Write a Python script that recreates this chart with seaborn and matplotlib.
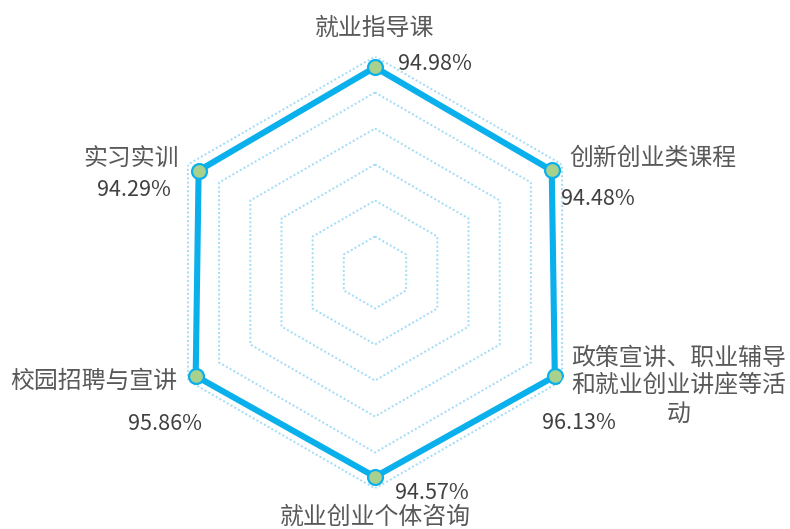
import numpy as np
import pandas as pd
import matplotlib
matplotlib.use("Agg")
import matplotlib.pyplot as plt
import seaborn as sns

categories = ["就业指导课", "创新创业类课程", "政策宣讲、职业辅导\n和就业创业讲座等活\n动",
              "就业创业个体咨询", "校园招聘与宣讲", "实习实训"]
values = [94.98, 94.48, 96.13, 94.57, 95.86, 94.29]
value_labels = ["94.98%", "94.48%", "96.13%", "94.57%", "95.86%", "94.29%"]
ring_levels = [100 / 6 * k for k in range(1, 7)]

sns.set_theme(style="white")
plt.rcParams["font.family"] = ["Noto Sans CJK SC", "DejaVu Sans"]

fig = plt.figure(figsize=(7.9, 5.29), dpi=100)
ax = fig.add_axes([159 / 790, 40.5 / 529, 432 / 790, 432 / 529], projection="polar")
ax.set_theta_zero_location("N")
ax.set_theta_direction(-1)

n = len(categories)
angles = np.linspace(0, 2 * np.pi, n, endpoint=False)
closed_angles = np.append(angles, angles[0])

# hexagonal dotted rings
for lvl in ring_levels:
    ax.plot(closed_angles, [lvl] * (n + 1), color="#A0DCF8", lw=1.4,
            ls=(0, (1, 1.2)), zorder=1)

df = pd.DataFrame({"theta": closed_angles, "r": values + [values[0]]})
sns.lineplot(data=df, x="theta", y="r", sort=False, ax=ax, color="#0AB0EC",
             lw=4.4, zorder=3, estimator=None)
sns.scatterplot(data=df.iloc[:-1], x="theta", y="r", ax=ax, s=115,
                color="#A9D18E", edgecolor="#0AB0EC", linewidth=1.6, zorder=4)

ax.set_ylim(0, 100)
ax.set_xticks([])
ax.set_yticks([])
ax.grid(False)
ax.spines["polar"].set_visible(False)
ax.set_xlabel("")
ax.set_ylabel("")

cat_style = dict(color="#595959", fontsize=17.2)
val_style = dict(color="#404040", fontsize=15.5)
line_step = 28  # pixel spacing between wrapped category lines

# (dx, dy, ha) pixel offsets for category labels and value labels
cat_offsets = [(0, 39, "center"), (18, 12, "left"), (124, -10, "center"),
               (0, -41, "center"), (-18, -5, "right"), (-20, 11, "right")]
val_offsets = [(23, 3, "left"), (9, -29, "left"), (-13, -47, "left"),
               (20, -16, "left"), (6, -48, "right"), (-28, -19, "right")]

for th, r, cat, vl, (cdx, cdy, cha), (vdx, vdy, vha) in zip(
        angles, values, categories, value_labels, cat_offsets, val_offsets):
    lines = cat.split("\n")
    top = cdy + line_step * (len(lines) - 1) / 2
    for i, line in enumerate(lines):
        ax.annotate(line, xy=(th, r), xytext=(cdx, top - i * line_step),
                    textcoords="offset pixels", ha=cha, va="center",
                    annotation_clip=False, **cat_style)
    ax.annotate(vl, xy=(th, r), xytext=(vdx, vdy), textcoords="offset pixels",
                ha=vha, va="center", annotation_clip=False, **val_style)

fig.savefig("out.png", dpi=100)
